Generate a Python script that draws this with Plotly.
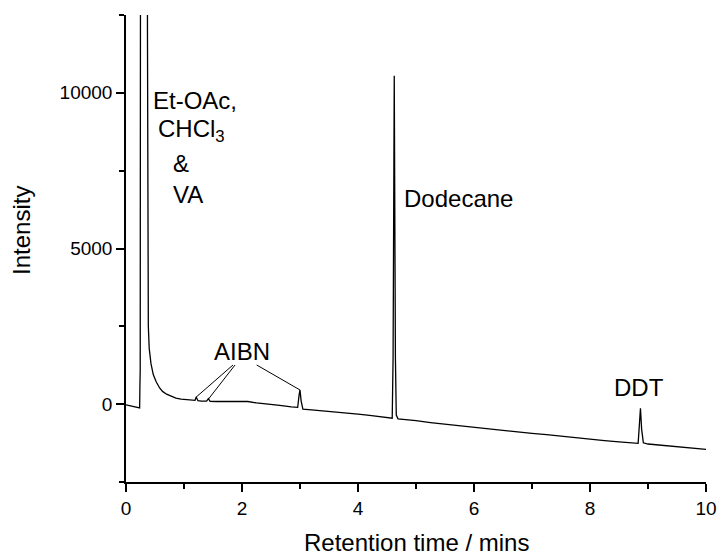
import plotly.graph_objects as go

# Retention time (min) and detector intensity
time = [0.00, 0.10, 0.20, 0.235, 0.24, 0.245, 0.25, 0.30, 0.36, 0.37, 0.385, 0.40,
        0.43, 0.47, 0.52, 0.58, 0.63, 0.70, 0.78, 0.86, 0.95, 1.05, 1.15, 1.19, 1.21,
        1.24, 1.30, 1.39, 1.42, 1.45, 1.55, 1.70, 1.85, 2.00, 2.10, 2.25, 2.45, 2.65,
        2.85, 2.96, 2.985, 3.00, 3.02, 3.05, 3.20, 3.40, 3.60, 3.80, 4.00, 4.20, 4.40,
        4.55, 4.59, 4.605, 4.625, 4.645, 4.66, 4.69, 4.75, 5.00, 5.25, 5.50, 5.75,
        6.00, 6.25, 6.50, 6.75, 7.00, 7.25, 7.50, 7.75, 8.00, 8.25, 8.50, 8.75, 8.83,
        8.85, 8.87, 8.89, 8.92, 9.00, 9.25, 9.50, 9.75, 10.00]
intensity = [-20, -60, -110, -120, 600, 1100, 15000, 60000, 30000, 12000, 2500, 1800,
             1310, 950, 720, 520, 410, 320, 250, 195, 160, 135, 115, 120, 230,
             110, 100, 95, 175, 90, 85, 80, 75, 80, 85, 40, 5, -40,
             -90, -100, 300, 456, 100, -160, -185, -215, -245, -285, -320, -360, -400,
             -440, -450, 1500, 10550, 1500, -350, -470, -480, -530, -590, -640, -700,
             -760, -800, -850, -900, -940, -980, -1030, -1090, -1130, -1170, -1210, -1250, -1260,
             -700, -130, -800, -1240, -1280, -1320, -1370, -1410, -1450]

x_range = [0, 10]
y_range = [-2500, 12500]

FONT = "Arial, 'Liberation Sans', sans-serif"

fig = go.Figure()
fig.add_trace(go.Scatter(x=time, y=intensity, mode="lines",
                         line=dict(color="black", width=1.3), showlegend=False,
                         hoverinfo="skip"))

# AIBN pointer lines
aibn_lines = [((1.845, 1259), (1.207, 222)),
              ((1.88, 1259), (1.419, 157)),
              ((2.253, 1259), (3.0, 456))]
for (x0, y0), (x1, y1) in aibn_lines:
    fig.add_shape(type="line", xref="x", yref="y", x0=x0, y0=y0, x1=x1, y1=y1,
                  line=dict(color="black", width=1))

labels = [
    (1.19, 9740, "Et-OAc,", "center"),
    (1.13, 8780, "CHCl<sub>3</sub>", "center"),
    (0.95, 7740, "&amp;", "center"),
    (1.07, 6720, "VA", "center"),
    (2.00, 1686, "AIBN", "center"),
    (4.76, 6620, "Dodecane", "left"),
    (8.85, 520, "DDT", "center"),
]
for x, y, t, anc in labels:
    fig.add_annotation(x=x, y=y, xref="x", yref="y", text=t, showarrow=False,
                       xanchor=anc, yanchor="middle",
                       font=dict(family=FONT, size=24, color="black"))

# axis titles
fig.add_annotation(x=0.5, y=-0.1285, xref="paper", yref="paper",
                   text="Retention time / mins", showarrow=False,
                   xanchor="center", yanchor="middle",
                   font=dict(family=FONT, size=24, color="black"))
fig.add_annotation(x=-0.1793, y=0.5375, xref="paper", yref="paper",
                   text="Intensity", showarrow=False, textangle=-90,
                   xanchor="center", yanchor="middle",
                   font=dict(family=FONT, size=24, color="black"))

axis_common = dict(showline=True, linecolor="black", linewidth=1.5,
                   showgrid=False, zeroline=False, ticks="outside",
                   ticklen=8, tickwidth=1.5, tickcolor="black",
                   automargin=False, tickformat="d",
                   tickfont=dict(family=FONT, size=19, color="black"))

fig.update_xaxes(range=x_range, tick0=0, dtick=2,
                 minor=dict(ticks="outside", dtick=1, ticklen=5,
                            tickwidth=1.5, tickcolor="black"),
                 **axis_common)
fig.update_yaxes(range=y_range, tick0=0, dtick=5000,
                 minor=dict(ticks="outside", dtick=2500, tick0=0, ticklen=5,
                            tickwidth=1.5, tickcolor="black"),
                 **axis_common)

fig.update_layout(width=720, height=556,
                  margin=dict(l=126, r=14, t=15, b=74),
                  plot_bgcolor="white", paper_bgcolor="white",
                  font=dict(family=FONT, color="black"))

fig.write_html("out.html")
